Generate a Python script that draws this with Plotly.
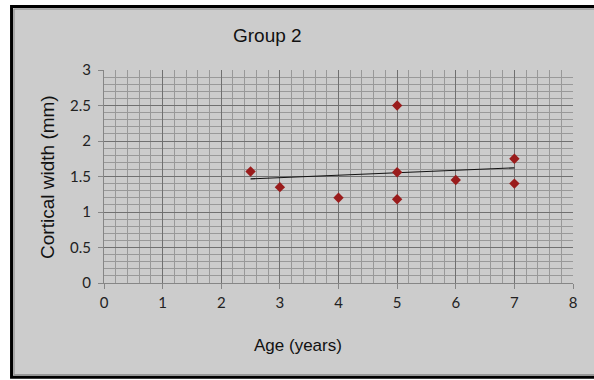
import numpy as np
import plotly.graph_objects as go

# Data
age_years = [2.5, 3, 4, 5, 5, 5, 6, 7, 7]
cortical_width_mm = [1.57, 1.35, 1.20, 2.50, 1.56, 1.18, 1.45, 1.75, 1.40]
x_ticks = [0, 1, 2, 3, 4, 5, 6, 7, 8]
y_ticks = [0, 0.5, 1, 1.5, 2, 2.5, 3]
y_tick_labels = ["0", "0.5", "1", "1.5", "2", "2.5", "3"]
chart_title = "Group 2"
x_title = "Age (years)"
y_title = "Cortical width (mm)"

# Linear trendline
slope, intercept = np.polyfit(age_years, cortical_width_mm, 1)
trend_x = [min(age_years), max(age_years)]
trend_y = [slope * v + intercept for v in trend_x]

W, H = 594, 380
L, R, T, B = 103.5, 21.3, 69.5, 97.3
pw = W - L - R
ph = H - T - B

def px2x(p):
    return (p - L) / pw

def px2y(p):
    return (H - B - p) / ph

fig = go.Figure()
fig.add_trace(go.Scatter(
    x=trend_x, y=trend_y, mode="lines",
    line=dict(color="#111111", width=1.2),
    hoverinfo="skip", showlegend=False,
))
fig.add_trace(go.Scatter(
    x=age_years, y=cortical_width_mm, mode="markers",
    marker=dict(symbol="diamond", size=8, color="#9a1c1c", line=dict(width=0)),
    showlegend=False,
))

tick_font = dict(family="Lato, Open Sans, sans-serif", size=15, color="#222222")
label_font = dict(family="Liberation Sans, Arial, sans-serif", color="#111111")

fig.update_layout(
    width=W, height=H,
    margin=dict(l=L, r=R, t=T, b=B, pad=0),
    paper_bgcolor="white",
    plot_bgcolor="rgba(0,0,0,0)",
    showlegend=False,
    xaxis=dict(
        range=[0, 8], tickvals=x_ticks, ticktext=[str(v) for v in x_ticks],
        showgrid=True, gridcolor="#707070", gridwidth=1,
        minor=dict(dtick=0.2, showgrid=True, gridcolor="#999999", gridwidth=1),
        ticks="outside", ticklen=5, tickcolor="#868686",
        showline=True, linecolor="#868686", linewidth=1,
        zeroline=False, tickfont=tick_font, ticklabelstandoff=1,
    ),
    yaxis=dict(
        range=[0, 3], tickvals=y_ticks, ticktext=y_tick_labels,
        showgrid=True, gridcolor="#707070", gridwidth=1,
        minor=dict(dtick=0.1, showgrid=True, gridcolor="#999999", gridwidth=1),
        ticks="outside", ticklen=5, tickcolor="#868686",
        showline=True, linecolor="#868686", linewidth=1,
        zeroline=False, tickfont=tick_font, ticklabelstandoff=4,
    ),
    shapes=[
        dict(type="rect", xref="paper", yref="paper", layer="below",
             x0=px2x(11), x1=px2x(640), y0=px2y(377), y1=px2y(6),
             fillcolor="#cccccc", line=dict(color="black", width=3)),
        dict(type="rect", xref="paper", yref="paper", layer="below",
             x0=px2x(13.5), x1=px2x(640), y0=px2y(374.5), y1=px2y(8.5),
             fillcolor="rgba(0,0,0,0)", line=dict(color="#8a8a8a", width=1)),
    ],
    annotations=[
        dict(text=chart_title, xref="paper", yref="paper",
             x=px2x(267), y=px2y(35), xanchor="center", yanchor="middle",
             showarrow=False, font=dict(size=19, **label_font)),
        dict(text=x_title, xref="paper", yref="paper",
             x=px2x(298), y=px2y(345), xanchor="center", yanchor="middle",
             showarrow=False, font=dict(size=17, **label_font)),
        dict(text=y_title, xref="paper", yref="paper", textangle=-90,
             x=px2x(47.5), y=px2y(176.5), xanchor="center", yanchor="middle",
             showarrow=False, font=dict(size=19, **label_font)),
    ],
)

fig.write_html(
    "out.html",
    config={"displayModeBar": False},
    post_script="document.body.style.margin='0';document.body.style.overflow='hidden';",
)
